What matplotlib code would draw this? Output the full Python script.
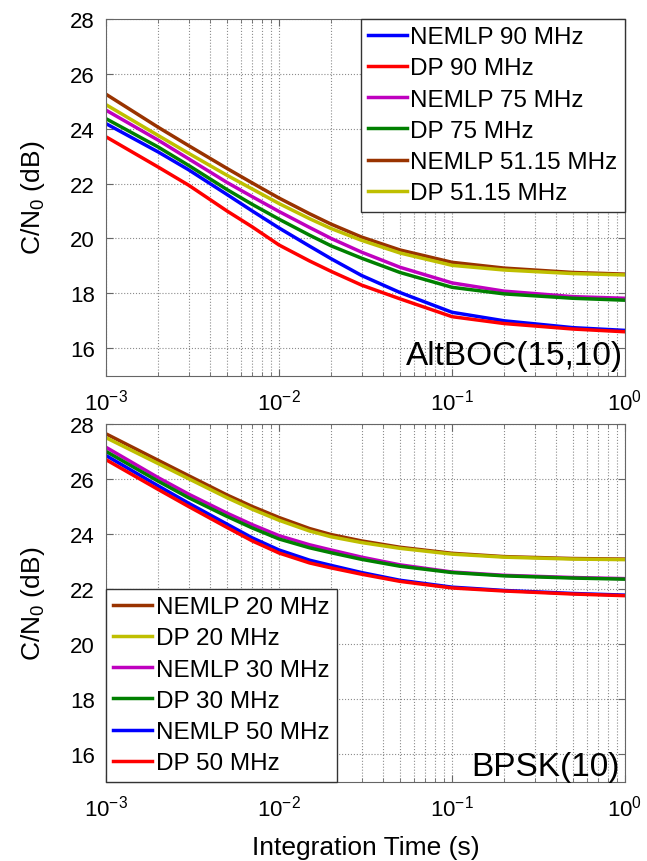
import numpy as np
import matplotlib
matplotlib.use('Agg')
import matplotlib.pyplot as plt

plt.rcParams['font.family'] = ['Liberation Sans', 'DejaVu Sans']
plt.rcParams['mathtext.fontset'] = 'custom'
plt.rcParams['mathtext.rm'] = 'Liberation Sans'
plt.rcParams['mathtext.it'] = 'Liberation Sans'

# -- integration time (s)
t = [1e-3, 2e-3, 3e-3, 5e-3, 7e-3, 1e-2, 1.5e-2, 2e-2, 3e-2, 5e-2, 1e-1, 2e-1, 5e-1, 1.0]

# -- AltBOC(15,10), C/N0 in dB
alt_nemlp_90 = [24.18, 23.15, 22.50, 21.60, 21.00, 20.38, 19.72, 19.26, 18.65, 18.03, 17.31, 17.00, 16.75, 16.65]
alt_dp_90 = [23.70, 22.60, 21.94, 21.00, 20.42, 19.76, 19.18, 18.80, 18.30, 17.80, 17.15, 16.90, 16.70, 16.60]
alt_nemlp_75 = [24.67, 23.58, 22.90, 22.04, 21.52, 20.98, 20.40, 20.00, 19.50, 18.95, 18.38, 18.08, 17.88, 17.82]
alt_dp_75 = [24.36, 23.33, 22.66, 21.78, 21.24, 20.70, 20.12, 19.73, 19.28, 18.76, 18.22, 17.98, 17.82, 17.75]
alt_nemlp_51 = [25.25, 24.05, 23.38, 22.55, 22.02, 21.47, 20.90, 20.52, 20.05, 19.58, 19.13, 18.92, 18.76, 18.70]
alt_dp_51 = [24.87, 23.75, 23.10, 22.30, 21.80, 21.27, 20.72, 20.36, 19.93, 19.47, 19.02, 18.85, 18.72, 18.67]

# -- BPSK(10)
bp_nemlp_20 = [27.64, 26.68, 26.12, 25.42, 25.00, 24.60, 24.20, 23.98, 23.75, 23.52, 23.30, 23.18, 23.11, 23.09]
bp_dp_20 = [27.50, 26.56, 26.01, 25.32, 24.90, 24.50, 24.11, 23.90, 23.69, 23.48, 23.27, 23.16, 23.09, 23.07]
bp_nemlp_30 = [27.15, 26.05, 25.45, 24.76, 24.34, 23.94, 23.61, 23.42, 23.16, 22.88, 22.62, 22.50, 22.42, 22.38]
bp_dp_30 = [27.00, 25.92, 25.32, 24.64, 24.22, 23.82, 23.50, 23.32, 23.08, 22.83, 22.60, 22.48, 22.40, 22.36]
bp_nemlp_50 = [26.85, 25.75, 25.12, 24.36, 23.86, 23.42, 23.05, 22.86, 22.60, 22.32, 22.07, 21.95, 21.84, 21.78]
bp_dp_50 = [26.70, 25.62, 25.00, 24.24, 23.75, 23.31, 22.95, 22.77, 22.54, 22.28, 22.04, 21.93, 21.82, 21.76]

BLUE = (0, 0, 1)
RED = (1, 0, 0)
MAG = (0.75, 0, 0.75)
GREEN = (0, 0.5, 0)
BROWN = (0.6, 0.2, 0)
YEL = (0.75, 0.75, 0)


def style_axes(ax):
    ax.set_xscale('log')
    ax.set_xlim(1e-3, 1)
    ax.set_ylim(15, 28)
    ax.set_yticks(np.arange(16, 29, 2))
    ax.grid(True, which='major', ls=':', color='0.55', lw=0.8)
    ax.grid(True, which='minor', axis='x', ls=':', color='0.55', lw=0.8)
    ax.tick_params(which='both', direction='in', top=True, right=True,
                   color='0.4', labelsize=16)
    ax.tick_params(which='major', length=5)
    ax.tick_params(which='minor', length=3)
    ax.tick_params(axis='x', pad=9)
    ax.tick_params(axis='y', pad=8)
    for s in ax.spines.values():
        s.set_color('0.4')
    ax.set_ylabel(r'C/N$_0$ (dB)', fontsize=19, labelpad=17)


def add_legend(ax, loc):
    leg = ax.legend(loc=loc, fontsize=17.5, borderaxespad=0,
                    fancybox=False, framealpha=1, edgecolor='0.2',
                    handlelength=1.6, handletextpad=0.15, labelspacing=0.38,
                    borderpad=0.3)
    leg.get_frame().set_linewidth(1.0)


def main():
    fig = plt.figure(figsize=(6.47, 8.62), dpi=100)
    ax1 = fig.add_axes([0.164, 0.563, 0.802, 0.414])
    ax2 = fig.add_axes([0.164, 0.092, 0.802, 0.415])
    lw = 2.5

    # -- top: AltBOC(15,10)
    ax1.plot(t, alt_nemlp_90, color=BLUE, lw=lw, label='NEMLP 90 MHz')
    ax1.plot(t, alt_dp_90, color=RED, lw=lw, label='DP 90 MHz')
    ax1.plot(t, alt_nemlp_75, color=MAG, lw=lw, label='NEMLP 75 MHz')
    ax1.plot(t, alt_dp_75, color=GREEN, lw=lw, label='DP 75 MHz')
    ax1.plot(t, alt_nemlp_51, color=BROWN, lw=lw, label='NEMLP 51.15 MHz')
    ax1.plot(t, alt_dp_51, color=YEL, lw=lw, label='DP 51.15 MHz')
    style_axes(ax1)
    add_legend(ax1, 'upper right')
    ax1.text(0.997, 0.012, 'AltBOC(15,10)', transform=ax1.transAxes,
             ha='right', va='bottom', fontsize=24)

    # -- bottom: BPSK(10)
    ax2.plot(t, bp_nemlp_20, color=BROWN, lw=lw, label='NEMLP 20 MHz')
    ax2.plot(t, bp_dp_20, color=YEL, lw=lw, label='DP 20 MHz')
    ax2.plot(t, bp_nemlp_30, color=MAG, lw=lw, label='NEMLP 30 MHz')
    ax2.plot(t, bp_dp_30, color=GREEN, lw=lw, label='DP 30 MHz')
    ax2.plot(t, bp_nemlp_50, color=BLUE, lw=lw, label='NEMLP 50 MHz')
    ax2.plot(t, bp_dp_50, color=RED, lw=lw, label='DP 50 MHz')
    style_axes(ax2)
    add_legend(ax2, 'lower left')
    ax2.text(0.99, 0.0, 'BPSK(10)', transform=ax2.transAxes,
             ha='right', va='bottom', fontsize=24)
    ax2.set_xlabel('Integration Time (s)', fontsize=19, labelpad=11)

    fig.savefig('out.png', dpi=100)


main()
